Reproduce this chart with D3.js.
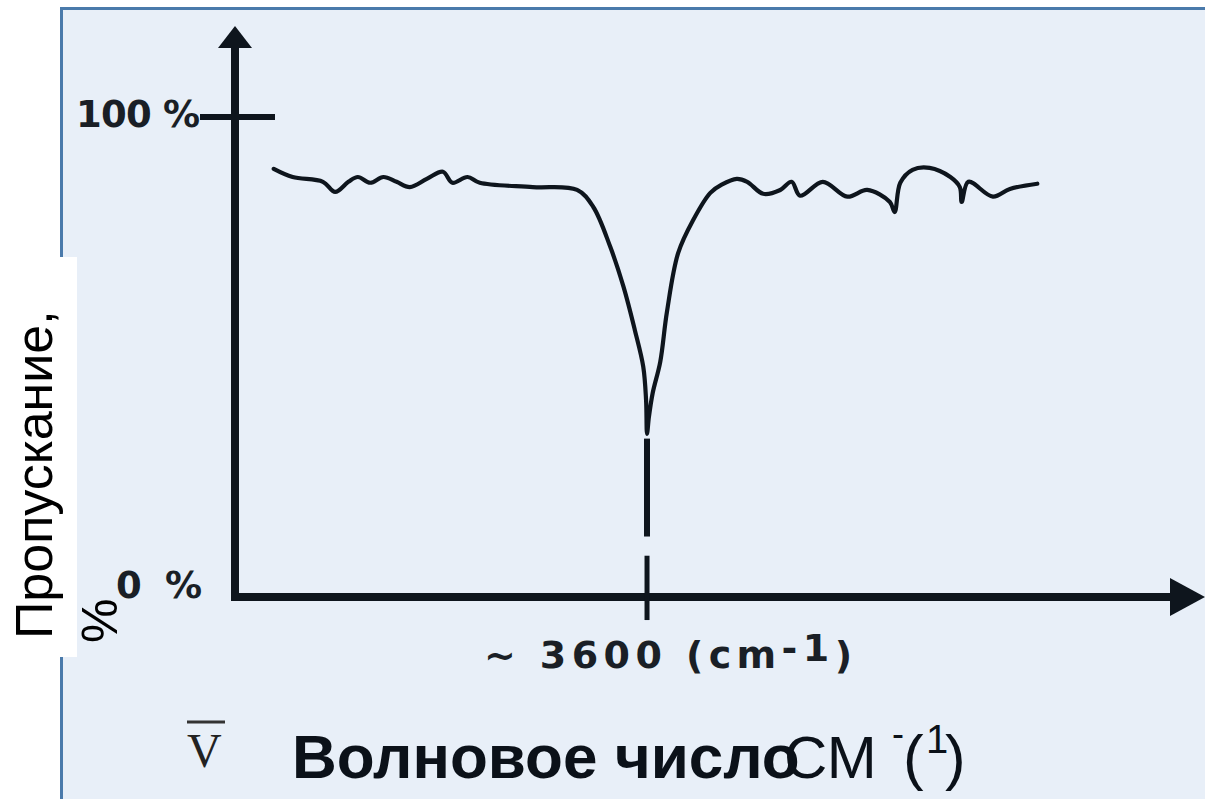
<!DOCTYPE html>
<html>
<head>
<meta charset="utf-8">
<script src="https://cdn.jsdelivr.net/npm/d3@7"></script>
<style>
  html, body { margin: 0; padding: 0; background: #ffffff; }
  svg { display: block; }
</style>
</head>
<body>
<svg id="chart" width="1205" height="799"></svg>
<script>
// ---- data (schematic IR spectrum, x in arbitrary position units 0..1000) ----
const xValues = [41, 61, 93, 106, 120, 130, 143, 157, 171, 185, 203, 220, 230, 246, 259, 315, 362, 379, 397, 411, 423, 432, 435, 436, 438, 442, 450, 457, 469, 485, 503, 515, 531, 542, 559, 577, 589, 598, 622, 648, 669, 693, 698, 704, 717, 735, 757, 767, 769, 776, 802, 820, 849];
const transmittance = [89.2, 87.5, 86.5, 84.4, 86.5, 87.5, 86.3, 87.5, 86.5, 85.4, 87.1, 88.6, 86.3, 87.5, 86.3, 85.4, 84.8, 81.3, 73.0, 64.7, 55.7, 48.0, 41.0, 34.0, 37.5, 42.5, 49.0, 59.3, 71.7, 78.6, 84.2, 85.9, 87.1, 86.5, 84.0, 84.8, 86.5, 83.6, 86.5, 83.4, 84.8, 82.3, 80.2, 86.3, 89.0, 89.4, 87.5, 85.4, 82.3, 86.5, 83.4, 85.0, 86.1];
const yTickValues = [100, 0];
const yTickLabels = ["100 %", "0 %"];
const peakPosition = 436;
const peakLabel = ["~ 3600 (cm", "-1", ")"];
const yAxisTitle = ["Пропускание,", "%"];
const xAxisTitle = "Волновое число";
const unitParts = ["СМ", "-", "(", "1", ")"];

// ---- layout ----
const W = 1205, H = 799;
const svg = d3.select("#chart");
const x = d3.scaleLinear().domain([0, 1000]).range([235, 1180]);
const y = d3.scaleLinear().domain([0, 100]).range([597, 117]);
const ink = "#0e151d";
const labelFont = "'DejaVu Sans', Verdana, sans-serif";

// page + panel
svg.append("rect").attr("width", W).attr("height", H).attr("fill", "#ffffff");
svg.append("rect").attr("x", 61).attr("y", 8.5).attr("width", W).attr("height", H)
  .attr("fill", "#e8eff8");
svg.append("line").attr("x1", 60).attr("x2", W).attr("y1", 8.5).attr("y2", 8.5)
  .attr("stroke", "#4a7aab").attr("stroke-width", 3);
svg.append("line").attr("x1", 61.5).attr("x2", 61.5).attr("y1", 7).attr("y2", H)
  .attr("stroke", "#4a7aab").attr("stroke-width", 3);

// white box behind y-axis title
svg.append("rect").attr("x", 0).attr("y", 257).attr("width", 77).attr("height", 400)
  .attr("fill", "#ffffff");

// y-axis title (rotated, two lines)
const yt = svg.append("g").attr("font-family", "'Liberation Sans', Arial, sans-serif")
  .attr("fill", "#000");
yt.append("text").attr("font-size", 52).attr("transform", "translate(52,639) rotate(-90)").text(yAxisTitle[0]);
yt.append("text").attr("font-size", 50).attr("transform", "translate(117,643) rotate(-90)").text(yAxisTitle[1]);

// axes
const axes = svg.append("g").attr("stroke", ink).attr("fill", "none");
axes.append("line").attr("x1", x(0)).attr("x2", x(0)).attr("y1", y(100) - 75).attr("y2", y(0) + 4)
  .attr("stroke-width", 8);
axes.append("line").attr("x1", x(0) - 4).attr("x2", x(1000) - 5).attr("y1", y(0)).attr("y2", y(0))
  .attr("stroke-width", 8);
// arrowheads
svg.append("path")
  .attr("d", `M${x(0)},${y(100) - 91} L${x(0) + 17},${y(100) - 69} L${x(0) - 17},${y(100) - 69} Z`)
  .attr("fill", ink);
svg.append("path")
  .attr("d", `M${W},${y(0)} L${x(1000) - 10},${y(0) - 19} L${x(1000) - 10},${y(0) + 19} Z`)
  .attr("fill", ink);

// y ticks & labels
axes.selectAll("line.ytick").data(yTickValues.filter(v => v > 0)).join("line")
  .attr("class", "ytick")
  .attr("x1", x(0) - 35).attr("x2", x(0) + 40)
  .attr("y1", d => y(d)).attr("y2", d => y(d)).attr("stroke-width", 6);
svg.selectAll("text.ylab").data(yTickValues).join("text")
  .attr("class", "ylab")
  .attr("x", (d, i) => i === 0 ? 76 : 116)
  .attr("y", d => y(d) + (d === 100 ? 10 : 1))
  .attr("font-family", labelFont).attr("font-weight", "bold")
  .attr("font-size", 37).attr("fill", "#1a1f26")
  .attr("textLength", (d, i) => i === 0 ? 124 : 86).attr("lengthAdjust", "spacing")
  .text((d, i) => yTickLabels[i]);

// peak marker (dashed vertical)
const px = x(peakPosition);
axes.append("line").attr("x1", px).attr("x2", px).attr("y1", y(33)).attr("y2", y(12.6)).attr("stroke-width", 6);
axes.append("line").attr("x1", px).attr("x2", px).attr("y1", y(8.6)).attr("y2", y(-4.8)).attr("stroke-width", 5);

// spectrum curve
const pts = xValues.map((v, i) => [v, transmittance[i]]);
svg.append("path").datum(pts)
  .attr("d", d3.line().x(d => x(d[0])).y(d => y(d[1])).curve(d3.curveCatmullRom.alpha(0.5)))
  .attr("fill", "none").attr("stroke", ink).attr("stroke-width", 4.2)
  .attr("stroke-linejoin", "round").attr("stroke-linecap", "round");

// peak label
const pl = svg.append("text").attr("x", 484).attr("y", 668)
  .attr("font-family", labelFont).attr("font-weight", "bold")
  .attr("font-size", 38).attr("fill", "#1a1f26")
  .attr("textLength", 368).attr("lengthAdjust", "spacing");
pl.append("tspan").text(peakLabel[0]);
pl.append("tspan").attr("dy", -7).text(peakLabel[1]);
pl.append("tspan").attr("dy", 7).text(peakLabel[2]);

// x-axis title: nu-bar + text
svg.append("text").attr("x", 187).attr("y", 767)
  .attr("font-family", "'Liberation Serif', 'DejaVu Serif', serif").attr("font-size", 48)
  .attr("fill", "#222").text("V");
svg.append("line").attr("x1", 187).attr("x2", 225).attr("y1", 722).attr("y2", 722)
  .attr("stroke", "#333").attr("stroke-width", 3);

svg.append("text").attr("x", 292).attr("y", 778)
  .attr("font-family", "'Liberation Sans', Arial, sans-serif").attr("font-weight", "bold")
  .attr("font-size", 62).attr("fill", "#0b1119").text(xAxisTitle);

const unitFont = "'Liberation Sans', Arial, sans-serif";
const units = [
  {t: unitParts[0], x: 784, y: 778, s: 60},
  {t: unitParts[1], x: 892, y: 746, s: 36},
  {t: unitParts[2], x: 903, y: 778, s: 62},
  {t: unitParts[3], x: 926, y: 753, s: 40},
  {t: unitParts[4], x: 945, y: 778, s: 62}
];
svg.selectAll("text.unit").data(units).join("text").attr("class", "unit")
  .attr("x", d => d.x).attr("y", d => d.y).attr("font-size", d => d.s)
  .attr("font-family", unitFont).attr("fill", "#0b1119").text(d => d.t);
</script>
</body>
</html>
